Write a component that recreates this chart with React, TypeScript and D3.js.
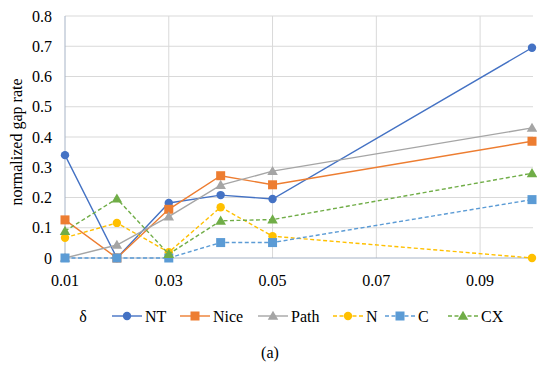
import * as d3 from 'd3';

const WIDTH = 537;
const HEIGHT = 368;
const MARGIN = { top: 16, right: 4, bottom: 110, left: 65 };

const deltas = [0.01, 0.02, 0.03, 0.04, 0.05, 0.1];
const xTicks = [0.01, 0.03, 0.05, 0.07, 0.09];
const yTicks = [0, 0.1, 0.2, 0.3, 0.4, 0.5, 0.6, 0.7, 0.8];

const ntValues = [0.34, 0, 0.182, 0.208, 0.195, 0.695];
const niceValues = [0.126, 0, 0.161, 0.272, 0.242, 0.386];
const pathValues = [0, 0.043, 0.137, 0.241, 0.287, 0.43];
const nValues = [0.067, 0.116, 0.019, 0.168, 0.072, 0];
const cValues = [0, 0, 0, 0.051, 0.051, 0.193];
const cxValues = [0.089, 0.196, 0.013, 0.123, 0.127, 0.28];

type Marker = 'circle' | 'square' | 'triangle';
const series: { name: string; values: number[]; color: string; dashed: boolean; marker: Marker }[] = [
  { name: 'NT', values: ntValues, color: '#4472C4', dashed: false, marker: 'circle' },
  { name: 'Nice', values: niceValues, color: '#ED7D31', dashed: false, marker: 'square' },
  { name: 'Path', values: pathValues, color: '#A5A5A5', dashed: false, marker: 'triangle' },
  { name: 'N', values: nValues, color: '#FFC000', dashed: true, marker: 'circle' },
  { name: 'C', values: cValues, color: '#5B9BD5', dashed: true, marker: 'square' },
  { name: 'CX', values: cxValues, color: '#70AD47', dashed: true, marker: 'triangle' },
];

const legendX = [112, 180, 258, 333, 385, 448];
const FS = 16;
const triangle = d3.symbol(d3.symbolTriangle, 48)() as string;

function MarkerShape({ kind, cx, cy, color }: { kind: Marker; cx: number; cy: number; color: string }) {
  if (kind === 'circle') return <circle cx={cx} cy={cy} r={4.2} fill={color} />;
  if (kind === 'square') return <rect x={cx - 4.5} y={cy - 4.5} width={9} height={9} fill={color} />;
  return <path d={triangle} transform={`translate(${cx},${cy + 0.8})`} fill={color} />;
}

export default function App() {
  const innerW = WIDTH - MARGIN.left - MARGIN.right;
  const innerH = HEIGHT - MARGIN.top - MARGIN.bottom;
  const x = d3.scaleLinear().domain([0.01, 0.1]).range([0, innerW - 1]);
  const y = d3.scaleLinear().domain([0, 0.8]).range([innerH, 0]);
  const line = d3.line<number>().x((_, i) => x(deltas[i])).y((v) => y(v));
  const ly = 316;

  return (
    <svg width={WIDTH} height={HEIGHT}
      style={{ position: 'absolute', left: 0, top: 0, background: '#fff' }}>
      <g transform={`translate(${MARGIN.left},${MARGIN.top})`}>
        {yTicks.slice(1).map((t) => (
          <line key={`h${t}`} x1={0} x2={innerW} y1={y(t)} y2={y(t)} stroke="#D9D9D9" />
        ))}
        {xTicks.slice(1).map((t) => (
          <line key={`v${t}`} x1={x(t)} x2={x(t)} y1={0} y2={innerH} stroke="#D9D9D9" />
        ))}
        <line x1={0} x2={innerW} y1={innerH} y2={innerH} stroke="#A6B3C6" />
        <line x1={0} x2={0} y1={0} y2={innerH} stroke="#A6B3C6" />

        {yTicks.map((t) => (
          <text key={`yt${t}`} x={-13} y={y(t) + 5.5} textAnchor="end" fontFamily="serif" fontSize={FS}>
            {t === 0 ? '0' : d3.format('.1f')(t)}
          </text>
        ))}
        {xTicks.map((t) => (
          <text key={`xt${t}`} x={x(t)} y={innerH + 28} textAnchor="middle" fontFamily="serif" fontSize={FS}>
            {d3.format('.2f')(t)}
          </text>
        ))}

        {series.map((s) => (
          <g key={s.name}>
            <path d={line(s.values) ?? ''} fill="none" stroke={s.color} strokeWidth={1.4}
              strokeDasharray={s.dashed ? '4,2.5' : undefined} />
            {s.values.map((v, i) => (
              <MarkerShape key={i} kind={s.marker} cx={x(deltas[i])} cy={y(v)} color={s.color} />
            ))}
          </g>
        ))}
      </g>

      <text transform={`translate(22,${MARGIN.top + innerH / 2 + 5}) rotate(-90)`}
        textAnchor="middle" fontFamily="serif" fontSize={FS}>normalized gap rate</text>

      <text x={83} y={ly + 5.5} textAnchor="middle" fontFamily="serif" fontSize={FS}>δ</text>
      {series.map((s, i) => (
        <g key={`lg${s.name}`}>
          <line x1={legendX[i]} x2={legendX[i] + 30} y1={ly} y2={ly} stroke={s.color} strokeWidth={1.4}
            strokeDasharray={s.dashed ? '4,2.5' : undefined} />
          <MarkerShape kind={s.marker} cx={legendX[i] + 15} cy={ly} color={s.color} />
          <text x={legendX[i] + 33} y={ly + 5.5} fontFamily="serif" fontSize={FS}>{s.name}</text>
        </g>
      ))}

      <text x={270} y={357.5} textAnchor="middle" fontFamily="serif" fontSize={FS}>(a)</text>
    </svg>
  );
}
